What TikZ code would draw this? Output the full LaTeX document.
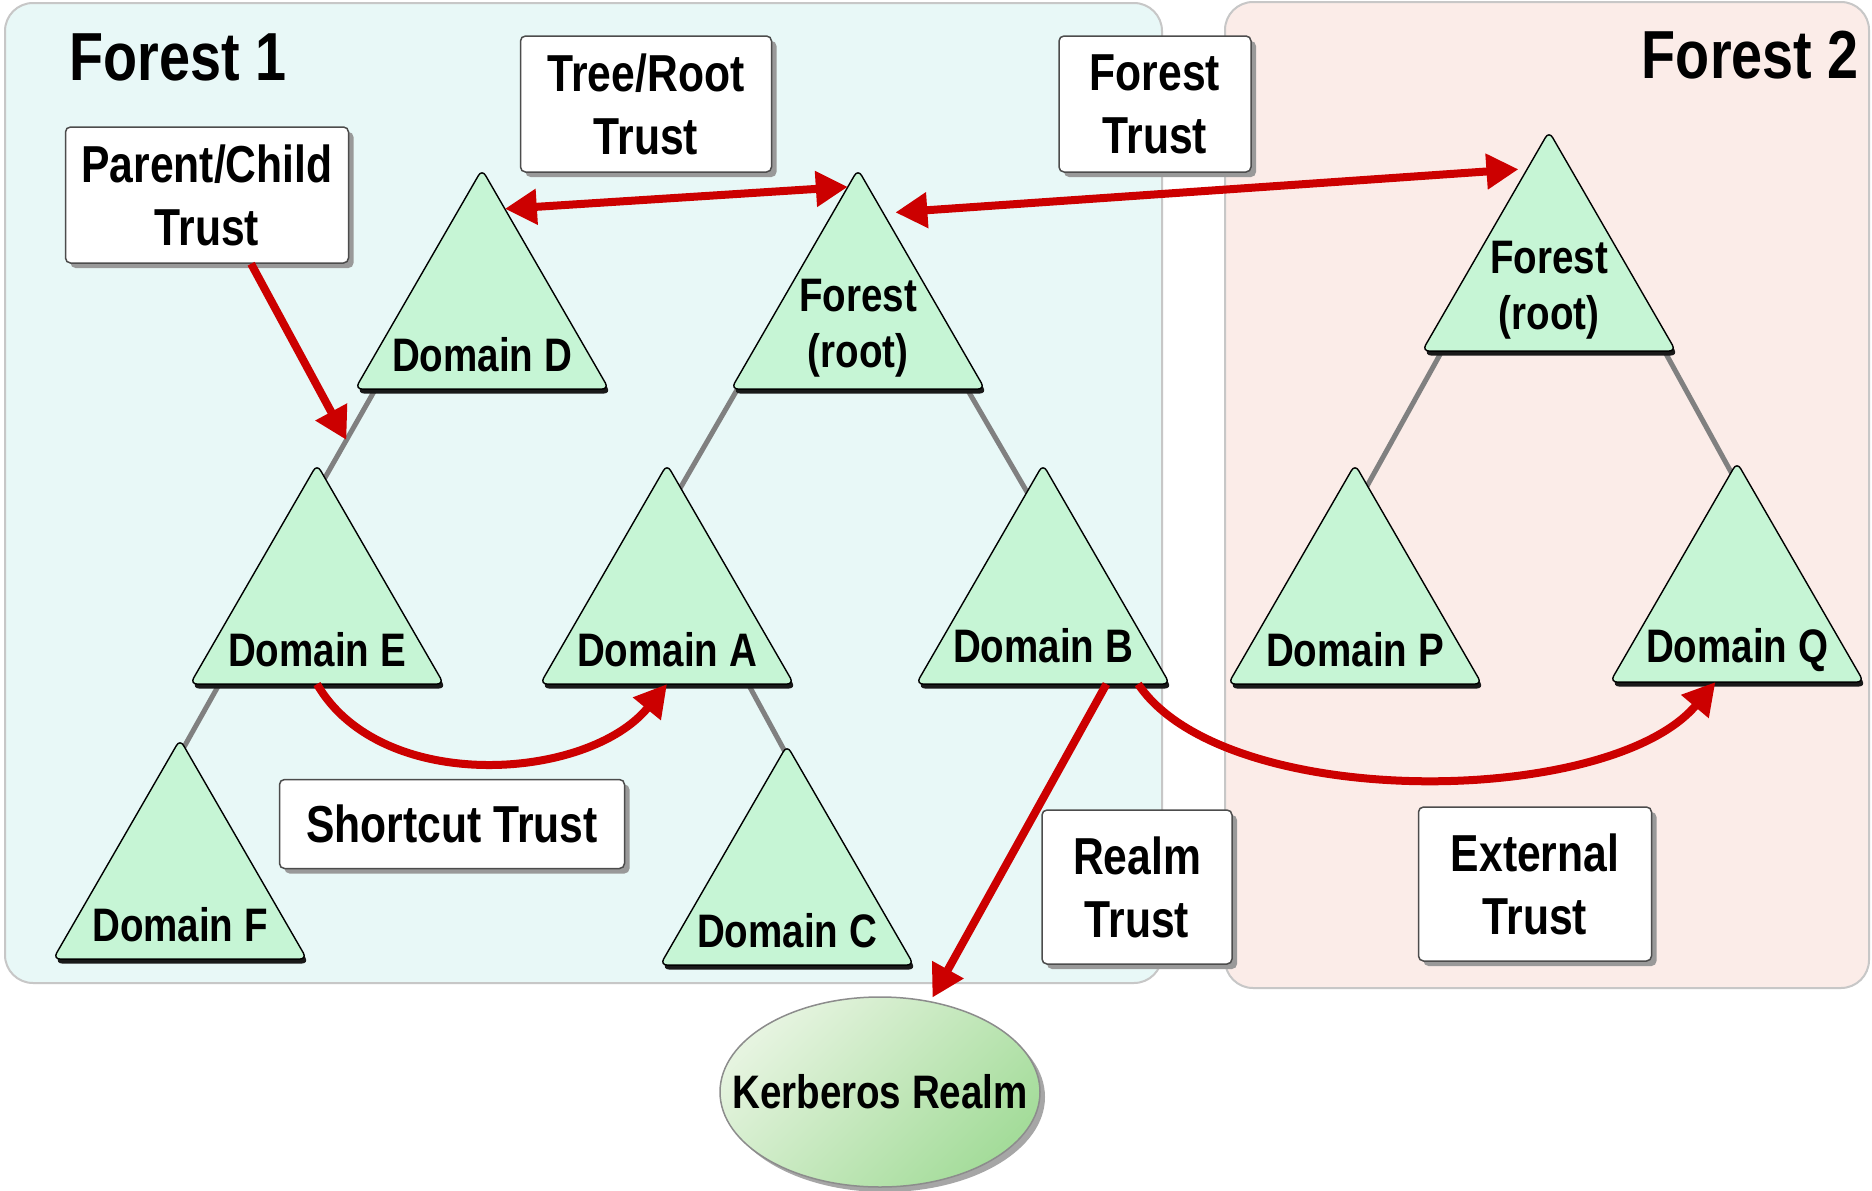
\documentclass[tikz,border=0pt]{standalone}
\usepackage{fontspec}
\setmainfont{Liberation Sans}[FakeStretch=0.82]
\usetikzlibrary{arrows.meta,positioning,shapes.geometric,shadows,calc}

\definecolor{panelA}{HTML}{E8F8F7}
\definecolor{panelB}{HTML}{FBECE8}
\definecolor{domfill}{HTML}{C6F5D5}
\definecolor{trustred}{HTML}{CC0000}
\definecolor{kerblight}{HTML}{E6F4E0}
\definecolor{kerbdark}{HTML}{A4DC9A}

\pgfdeclarelayer{back}
\pgfdeclarelayer{lines}
\pgfsetlayers{back,lines,main}

\begin{document}
\begin{tikzpicture}[
    x=1pt, y=-1pt,
    font=\bfseries,
    panel/.style={draw=black!22, line width=2pt, rounded corners=28pt},
    title/.style={font=\bfseries\fontsize{68}{80}\selectfont, inner sep=0pt},
    domtri/.style={regular polygon, regular polygon sides=3, minimum size=293pt, inner sep=0pt, outer sep=0pt,
        draw=black, line width=1.4pt, fill=domfill, rounded corners=7pt,
        drop shadow={shadow xshift=2pt, shadow yshift=-4.5pt, fill=black!90, opacity=1}},
    domtext/.style={font=\bfseries\fontsize{47}{56}\selectfont, align=center, inner sep=0pt},
    trustbox/.style={draw=black!70, line width=1.5pt, fill=white, rounded corners=5pt, align=center,
        font=\bfseries\fontsize{52}{63}\selectfont,
        drop shadow={shadow xshift=5pt, shadow yshift=-5pt, fill=black!40, opacity=1}},
    realmshape/.style={ellipse, minimum width=320pt, minimum height=190pt, draw=black!45, line width=1.5pt,
        left color=kerblight, right color=kerbdark, shading angle=45,
        drop shadow={shadow xshift=5pt, shadow yshift=-5pt, fill=black!35, opacity=1}},
    branch/.style={draw=black!50, line width=5pt},
    trust/.style={draw=trustred, line width=8pt, -{Triangle[length=32pt,width=34pt]}},
    trustboth/.style={draw=trustred, line width=8pt, {Triangle[length=32pt,width=34pt]}-{Triangle[length=32pt,width=34pt]}}
]
    \useasboundingbox (0,0) rectangle (1872,1191);

    % forests
    \begin{pgfonlayer}{back}
        \fill[white] (0,0) rectangle (1872,1191);
        \draw[panel, fill=panelA] (5,3) rectangle (1162,983);
        \draw[panel, fill=panelB] (1225,2) rectangle (1869,988);
    \end{pgfonlayer}
    \node[title, anchor=base west] (forest1) at (69,80) {Forest 1};
    \node[title, anchor=base east] (forest2) at (1859,78) {Forest 2};

    % domains
    \node[domtri] (domD) at (482,315.8) {};
    \node[domtri] (root1) at (858,315.8) {};
    \node[domtri] (domE) at (317,610.8) {};
    \node[domtri] (domA) at (667,610.8) {};
    \node[domtri] (domB) at (1043,610.8) {};
    \node[domtri] (domF) at (180,885.8) {};
    \node[domtri] (domC) at (787,891.8) {};
    \node[domtri] (root2) at (1549,277.8) {};
    \node[domtri] (domP) at (1355,610.8) {};
    \node[domtri] (domQ) at (1737,608.8) {};

    \node[domtext, anchor=base] at ([yshift=18pt]domD.south) {Domain D};
    \node[domtext] at ([yshift=61pt]root1.south) {Forest\\(root)};
    \node[domtext, anchor=base] at ([yshift=18pt]domE.south) {Domain E};
    \node[domtext, anchor=base] at ([yshift=18pt]domA.south) {Domain A};
    \node[domtext, anchor=base] at ([yshift=22pt]domB.south) {Domain B};
    \node[domtext, anchor=base] at ([yshift=18pt]domF.south) {Domain F};
    \node[domtext, anchor=base] at ([yshift=18pt]domC.south) {Domain C};
    \node[domtext] at ([yshift=61pt]root2.south) {Forest\\(root)};
    \node[domtext, anchor=base] at ([yshift=18pt]domP.south) {Domain P};
    \node[domtext, anchor=base] at ([yshift=20pt]domQ.south) {Domain Q};

    \node[realmshape] (kerberos) at (880,1092) {};
    \node[domtext] at (kerberos) {Kerberos Realm};

    % tree lines
    \begin{pgfonlayer}{lines}
        \draw[branch] ($(domD.corner 2)!0.08!(domD.corner 3)$) -- coordinate[pos=0.45] (pcend) ($(domE.corner 1)+(-6,38)$);
        \draw[branch] ($(root1.corner 2)!0.025!(root1.corner 3)$) -- ($(domA.corner 1)+(5,38)$);
        \draw[branch] ($(root1.corner 2)!0.93!(root1.corner 3)$) -- ($(domB.corner 1)+(-10,38)$);
        \draw[branch] ($(domE.corner 2)!0.115!(domE.corner 3)$) -- ($(domF.corner 1)+(-13,38)$);
        \draw[branch] ($(domA.corner 2)!0.82!(domA.corner 3)$) -- ($(domC.corner 1)+(7,23)$);
        \draw[branch] ($(root2.corner 2)!0.078!(root2.corner 3)$) -- ($(domP.corner 1)+(3,38)$);
        \draw[branch] ($(root2.corner 2)!0.955!(root2.corner 3)$) -- ($(domQ.corner 1)+(9,37)$);
    \end{pgfonlayer}

    % trust labels
    \node[trustbox, minimum width=283pt, minimum height=136pt] (parentchild) at (207,195) {Parent/Child\\Trust};
    \node[trustbox, minimum width=251pt, minimum height=136pt] (treeroot) at (646,104) {Tree/Root\\Trust};
    \node[trustbox, minimum width=192pt, minimum height=136pt] (foresttrust) at (1155,104) {Forest\\Trust};
    \node[trustbox, minimum width=345pt, minimum height=89pt] (shortcut) at (452,824) {Shortcut Trust};
    \node[trustbox, minimum width=190pt, minimum height=154pt] (realm) at (1137,887) {Realm\\Trust};
    \node[trustbox, minimum width=233pt, minimum height=154pt] (external) at (1535,884) {External\\Trust};

    % trusts
    \draw[trust] ($(parentchild.south)!0.31!(parentchild.south east)$) -- (pcend);
    \draw[trustboth] ($(domD.corner 1)!0.18!(domD.corner 3)$) -- ($(root1.corner 1)!0.08!(root1.corner 2)$);
    \draw[trustboth, shorten <=12pt, shorten >=9pt] ($(root1.corner 1)!0.2!(root1.corner 3)$) -- ($(root2.corner 1)!0.17!(root2.corner 2)$);
    \draw[trust] (domE.south) .. controls +(64,111) and +(-79,97) .. (domA.south);
    \draw[trust] ($(domB.south)!0.75!(domB.corner 3)$) .. controls +(86,128) and +(-106,126) .. ($(domQ.south)!0.17!(domQ.corner 2)$);
    \draw[trust, shorten >=4pt] ($(domB.south)!0.5!(domB.corner 3)$) -- (kerberos);
\end{tikzpicture}
\end{document}
